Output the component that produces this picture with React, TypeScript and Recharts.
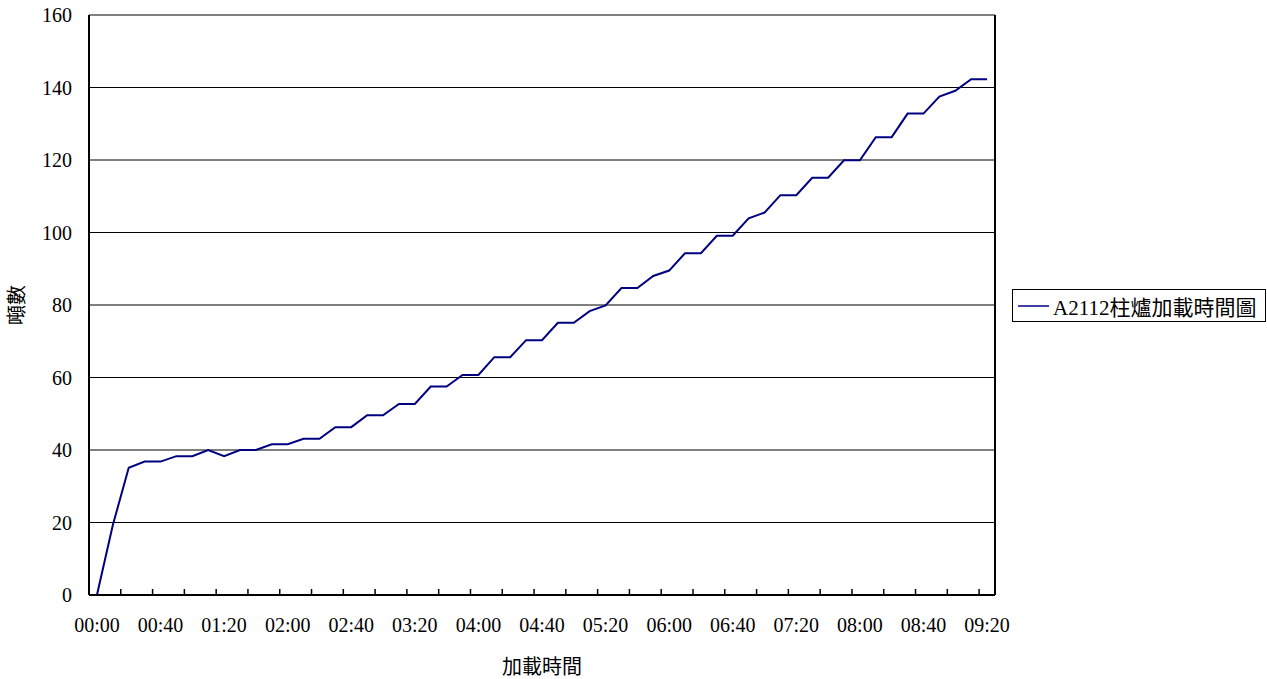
import React from "react";
import { LineChart, Line, XAxis, YAxis, CartesianGrid, Legend } from "recharts";

// 10-minute readings
const times = [
  "00:00", "00:10", "00:20", "00:30", "00:40", "00:50",
  "01:00", "01:10", "01:20", "01:30", "01:40", "01:50",
  "02:00", "02:10", "02:20", "02:30", "02:40", "02:50",
  "03:00", "03:10", "03:20", "03:30", "03:40", "03:50",
  "04:00", "04:10", "04:20", "04:30", "04:40", "04:50",
  "05:00", "05:10", "05:20", "05:30", "05:40", "05:50",
  "06:00", "06:10", "06:20", "06:30", "06:40", "06:50",
  "07:00", "07:10", "07:20", "07:30", "07:40", "07:50",
  "08:00", "08:10", "08:20", "08:30", "08:40", "08:50",
  "09:00", "09:10", "09:20",
];

const tons = [
  0, 19.3, 35.1, 36.8, 36.8, 38.3, 38.3, 40, 38.3, 40, 40, 41.6, 41.6, 43.1, 43.1,
  46.3, 46.3, 49.6, 49.6, 52.7, 52.7, 57.5, 57.5, 60.7, 60.7, 65.6, 65.6, 70.3, 70.3,
  75.1, 75.1, 78.3, 79.9, 84.7, 84.7, 88.0, 89.5, 94.3, 94.3, 99.1, 99.1, 103.9, 105.5,
  110.3, 110.3, 115.1, 115.1, 119.9, 119.9, 126.3, 126.3, 132.8, 132.8, 137.5, 139.1,
  142.3, 142.3,
];

const xTickLabels = [
  "00:00", "00:40", "01:20", "02:00", "02:40", "03:20", "04:00", "04:40",
  "05:20", "06:00", "06:40", "07:20", "08:00", "08:40", "09:20",
];

const yTicks = [0, 20, 40, 60, 80, 100, 120, 140, 160];

const seriesName = "A2112柱爐加載時間圖";

const toMin = (s: string) => {
  const [h, m] = s.split(":").map(Number);
  return h * 60 + m;
};
const pad = (n: number) => String(n).padStart(2, "0");
const fmt = (v: number) => `${pad(Math.floor(v / 60))}:${pad(v % 60)}`;

const minutes = times.map(toMin);
const half = (minutes[1] - minutes[0]) / 2;
const domain = [minutes[0] - half, minutes[minutes.length - 1] + half];
const labelTicks = xTickLabels.map(toMin);
// tick marks sit on category boundaries, every two categories
const markTicks: number[] = [];
for (let i = 1; i < minutes.length - 1; i += 2) markTicks.push(minutes[i] + half);
const markSet = new Set(markTicks);
const allTicks = [...labelTicks, ...markTicks].sort((a, b) => a - b);

const data = minutes.map((t, i) => ({ t, tons: tons[i] }));

const FONT = "'Liberation Serif', 'Noto Sans CJK TC', serif";

const XTick = (props: any) => {
  const { x, y, payload } = props;
  const v = payload.value;
  if (markSet.has(v)) {
    return <line x1={x} x2={x} y1={y} y2={y - 6} stroke="#000" strokeWidth={1.5} />;
  }
  return (
    <text x={x} y={y + 23} dy="0.71em" textAnchor="middle" fontSize={20} fontFamily={FONT} fill="#000">
      {fmt(v)}
    </text>
  );
};

const YTitle = (props: any) => {
  const vb = props.viewBox;
  const cx = vb.x + 17;
  const cy = vb.y + vb.height / 2;
  return (
    <text
      x={cx}
      y={cy}
      transform={`rotate(-90, ${cx}, ${cy})`}
      textAnchor="middle"
      dominantBaseline="central"
      fontSize={20}
      fontFamily={FONT}
      fill="#000"
    >
      噸數
    </text>
  );
};

const LegendBox = (props: any) => {
  const item = (props.payload || [])[0];
  return (
    <div
      style={{
        border: "1px solid #000",
        background: "#fff",
        height: 33,
        display: "flex",
        alignItems: "center",
        boxSizing: "border-box",
        paddingLeft: 5,
        fontFamily: FONT,
        fontSize: 21,
        whiteSpace: "nowrap",
      }}
    >
      <svg width={31} height={4} style={{ marginRight: 4 }}>
        <line x1={0} x2={31} y1={2} y2={2} stroke={item ? item.color : "#000080"} strokeWidth={1.5} />
      </svg>
      <span>{item ? item.value : seriesName}</span>
    </div>
  );
};

export default function App() {
  return (
    <div style={{ position: "absolute", left: 0, top: 0, background: "#fff" }}>
      <LineChart width={1267} height={679} data={data} margin={{ top: 15, right: 271, left: 0, bottom: 0 }}>
        <CartesianGrid horizontal vertical={false} stroke="#000" strokeWidth={1} />
        <XAxis
          dataKey="t"
          type="number"
          domain={domain}
          ticks={allTicks}
          interval={0}
          height={84}
          tickLine={false}
          tickSize={0}
          tickMargin={0}
          tick={<XTick />}
          axisLine={{ stroke: "#000", strokeWidth: 2 }}
          label={{ value: "加載時間", position: "insideBottom", offset: 5, fontSize: 20, fontFamily: FONT, fill: "#000" }}
        />
        <YAxis
          domain={[0, 160]}
          ticks={yTicks}
          width={89}
          tickLine={false}
          tickSize={0}
          tickMargin={17}
          tick={{ fontSize: 20, fontFamily: FONT, fill: "#000" }}
          axisLine={{ stroke: "#000", strokeWidth: 2 }}
          label={<YTitle />}
        />
        <YAxis
          yAxisId="right"
          orientation="right"
          domain={[0, 160]}
          width={1}
          tick={false}
          tickLine={false}
          axisLine={{ stroke: "#000", strokeWidth: 2 }}
        />
        <Legend
          layout="horizontal"
          verticalAlign="middle"
          align="center"
          content={<LegendBox />}
          wrapperStyle={{ left: 1012, top: 289, width: 254, height: 33 }}
        />
        <Line
          type="linear"
          dataKey="tons"
          name={seriesName}
          stroke="#000080"
          strokeWidth={2}
          dot={false}
          isAnimationActive={false}
        />
      </LineChart>
    </div>
  );
}
